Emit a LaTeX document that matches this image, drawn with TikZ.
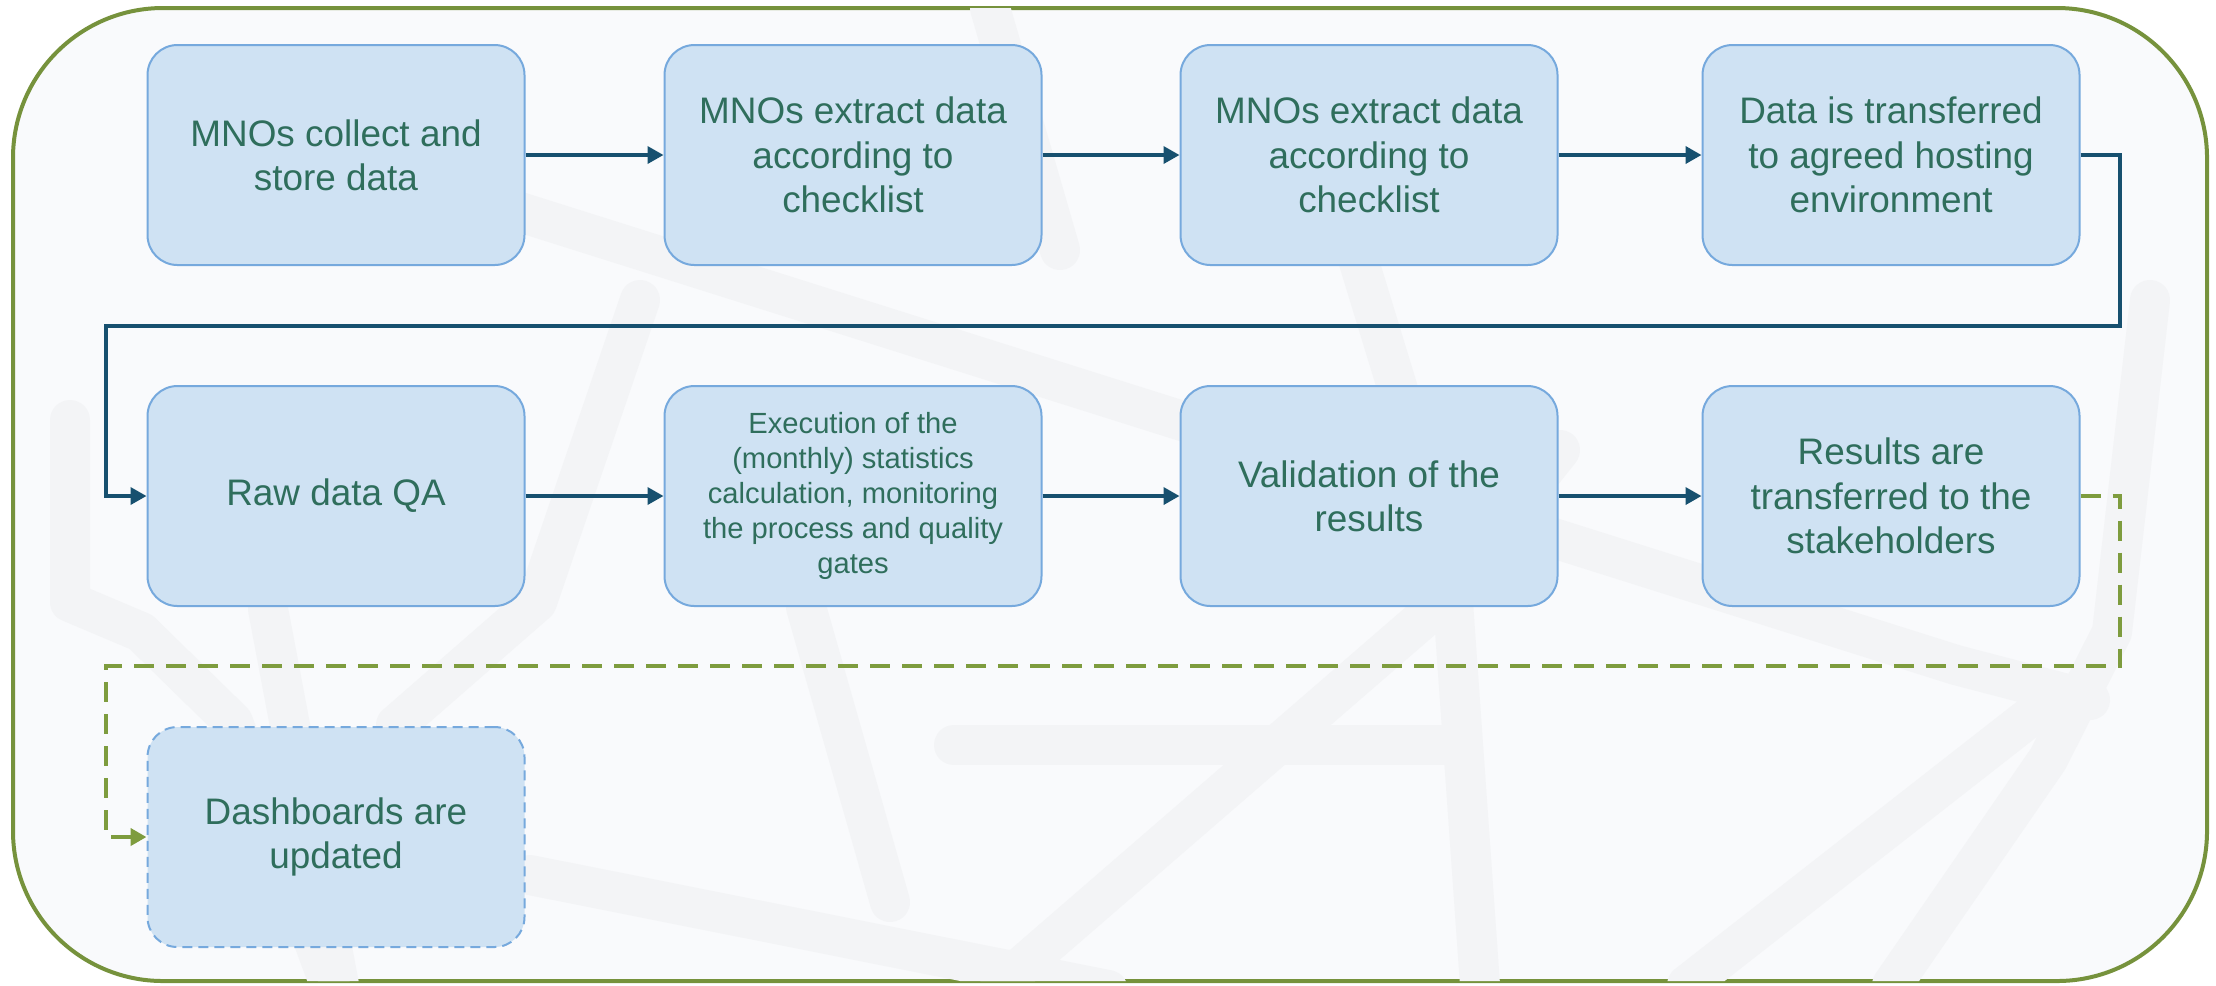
\documentclass[tikz,border=0pt]{standalone}
\usepackage{fontspec}
\setmainfont{Liberation Sans}
\usetikzlibrary{arrows.meta}
\definecolor{framegreen}{HTML}{76923C}
\definecolor{feedgreen}{HTML}{7E9C3E}
\definecolor{boxfill}{HTML}{CFE2F3}
\definecolor{boxline}{HTML}{76A9DD}
\definecolor{boxtext}{HTML}{2F6E5C}
\definecolor{flowblue}{HTML}{17506F}
\definecolor{pale}{HTML}{F9FAFC}
\definecolor{band}{HTML}{F3F4F6}

\begin{document}
\begin{tikzpicture}[x=0.1mm,y=-0.1mm,
        flow/.style={draw=flowblue,line width=0.36mm,-{Triangle[length=1.6mm,width=1.7mm]}},
        feed/.style={draw=feedgreen,line width=0.45mm,dash pattern=on 2mm off 1.2mm,-{Triangle[length=1.6mm,width=1.7mm]}},
        netband/.style={draw=band,line width=4mm,line join=round,line cap=round}]
            \useasboundingbox (0,0) rectangle (2216,985);
            \draw[framegreen,line width=0.4mm,fill=pale,rounded corners=15mm] (13,8) rectangle (2207,981);
            % faint network behind the steps
            \begin{scope}
                \clip[rounded corners=15mm] (13,8) rectangle (2207,981);
                \draw[netband] (450,190) -- (1956,665) -- (2090,700);
                \draw[netband] (954,745) -- (1454,745);
                \draw[netband] (1340,200) -- (1450,560) -- (1480,985);
                \draw[netband] (1000,985) -- (1433,610) -- (1560,450);
                \draw[netband] (1687,985) -- (2040,709);
                \draw[netband] (1892,985) -- (2048,759) -- (2112,632) -- (2150,300);
                \draw[netband] (70,420) -- (70,602) -- (141,632) -- (233,722) -- (330,985);
                \draw[netband] (268,609) -- (339,985);
                \draw[netband] (530,875) -- (1108,990);
                \draw[netband] (806,607) -- (890,902);
                \draw[netband] (396,725) -- (537,602) -- (640,300);
                \draw[netband] (990,8) -- (1060,250);
            \end{scope}
            \begin{scope}[every node/.style={draw=boxline,fill=boxfill,text=boxtext,line width=0.2mm,rounded corners=3mm,minimum width=37.7mm,minimum height=22mm,align=center,font=\fontsize{10.5}{12.6}\selectfont}]
                \node (collect) at (336,155) {MNOs collect and\\store data};
                \node (extractA) at (853,155) {MNOs extract data\\according to\\checklist};
                \node (extractB) at (1369,155) {MNOs extract data\\according to\\checklist};
                \node (hosting) at (1891,155) {Data is transferred\\to agreed hosting\\environment};
                \node (rawqa) at (336,496) {Raw data QA};
                \node[font=\fontsize{8.3}{10}\selectfont] (execute) at (853,496) {Execution of the\\(monthly) statistics\\calculation, monitoring\\the process and quality\\gates};
                \node (validate) at (1369,496) {Validation of the\\results};
                \node (results) at (1891,496) {Results are\\transferred to the\\stakeholders};
                \node[dash pattern=on 1mm off 0.6mm] (dashboards) at (336,837) {Dashboards are\\updated};
            \end{scope}
            \coordinate (turnR) at (2120,326);
            \coordinate (turnL) at (106,326);
            \coordinate (feedR) at (2120,666);
            \coordinate (feedL) at (106,666);
            \draw (collect) edge [flow] (extractA);
            \draw (extractA) edge [flow] (extractB);
            \draw (extractB) edge [flow] (hosting);
            \draw[flow] (hosting.east) -| (turnR) -- (turnL) |- (rawqa.west);
            \draw (rawqa) edge [flow] (execute);
            \draw (execute) edge [flow] (validate);
            \draw (validate) edge [flow] (results);
            \draw[feed] (results.east) -| (feedR) -- (feedL) |- (dashboards.west);
        \end{tikzpicture}
\end{document}
